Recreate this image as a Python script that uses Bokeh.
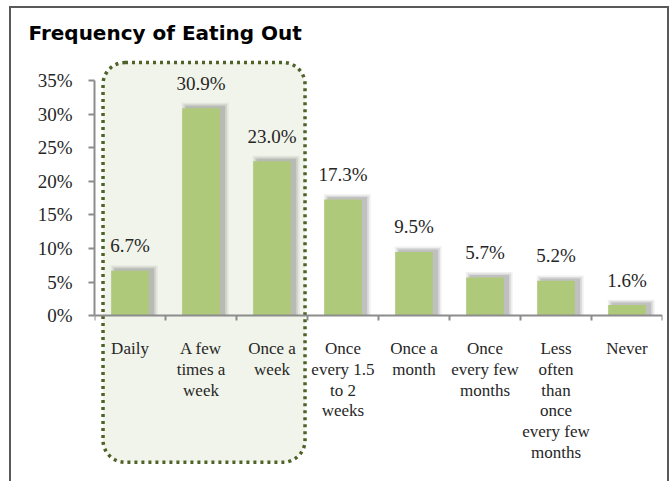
from bokeh.plotting import figure
from bokeh.models import (Range1d, LinearAxis, FixedTicker,
                          NumeralTickFormatter, BoxAnnotation, ColumnDataSource)
from bokeh.embed import file_html
from bokeh.resources import INLINE
from bokeh.core.properties import value

categories = ["Daily", "A few\ntimes a\nweek", "Once a\nweek", "Once\nevery 1.5\nto 2\nweeks",
              "Once a\nmonth", "Once\nevery few\nmonths",
              "Less\noften\nthan\nonce\nevery few\nmonths", "Never"]
values = [0.067, 0.309, 0.230, 0.173, 0.095, 0.057, 0.052, 0.016]
value_labels = ["6.7%", "30.9%", "23.0%", "17.3%", "9.5%", "5.7%", "5.2%", "1.6%"]
y_ticks = [0, 0.05, 0.10, 0.15, 0.20, 0.25, 0.30, 0.35]

SERIF = "Liberation Serif"
n = len(categories)
centers = [i + 0.5 for i in range(n)]
boundaries = list(range(n + 1))

p = figure(width=660, height=475, x_range=Range1d(0, n), y_range=Range1d(-0.2333, 0.3874),
           output_backend="svg", toolbar_location=None, x_axis_location=None,
           min_border_left=83, min_border_right=9, min_border_top=47, min_border_bottom=11)
p.outline_line_color = None
p.grid.visible = False
p.background_fill_color = "white"
p.styles = {"border-top": "2px solid #595959", "border-left": "2px solid #595959",
            "border-right": "2px solid #595959", "box-sizing": "border-box",
            "margin-left": "9px", "margin-top": "6px"}

p.title.text = "Frequency of Eating Out"
p.title.text_font = "DejaVu Sans"
p.title.text_font_style = "bold"
p.title.text_font_size = "20px"
p.title.text_color = "#000000"
p.title.align = "left"
p.title.offset = -66
p.title.standoff = 21

box = BoxAnnotation(left=0.12, right=2.965, top=0.377, bottom=-0.218,
                    fill_color="#F1F4EA", fill_alpha=1.0,
                    line_color="#4F6228", line_alpha=1.0, line_width=3.5, line_dash="3 4",
                    border_radius=22, level="underlay")
p.add_layout(box)

src = ColumnDataSource(dict(x=centers, top=values, lab=value_labels))

# soft shadow
for k, (w, a) in enumerate([(0.66, 0.10), (0.61, 0.16), (0.56, 0.24)]):
    shadow_src = ColumnDataSource(dict(x=[c + 0.06 for c in centers],
                                       top=[v + 0.0080 - 0.0022 * k for v in values]))
    p.vbar(x="x", top="top", width=w, bottom=0,
           source=shadow_src, fill_color="#6e6e6e", fill_alpha=a, line_color=None)

p.vbar(x="x", top="top", width=0.53, source=src, fill_color="#AFC97B", line_color=None)

p.text(x="x", y="top", text="lab", source=src, text_align="center",
       text_baseline="alphabetic", y_offset=-25, text_font=value(SERIF),
       text_font_size="19px", text_color="#262626")

# y axis
ya = p.yaxis[0]
ya.bounds = (0, 0.35)
ya.ticker = FixedTicker(ticks=y_ticks)
ya.formatter = NumeralTickFormatter(format="0%")
ya.axis_line_color = "#8c8c8c"
ya.axis_line_width = 2
ya.major_tick_line_color = "#8c8c8c"
ya.major_tick_line_width = 2
ya.major_tick_in = 0
ya.major_tick_out = 6
ya.minor_tick_line_color = None
ya.major_label_text_font = SERIF
ya.major_label_text_font_size = "19px"
ya.major_label_text_color = "#262626"
ya.major_label_standoff = 16

# category axis at y = 0, ticks at category boundaries (minor ticks)
xa = LinearAxis(ticker=FixedTicker(ticks=centers, minor_ticks=boundaries), fixed_location=0)
xa.major_label_overrides = {c: lab for c, lab in zip(centers, categories)}
xa.axis_line_color = "#8c8c8c"
xa.axis_line_width = 2
xa.major_tick_line_color = None
xa.minor_tick_line_color = "#8c8c8c"
xa.minor_tick_line_width = 2
xa.minor_tick_in = 0
xa.minor_tick_out = 5
xa.major_tick_in = 0
xa.major_tick_out = 0
xa.major_label_text_font = SERIF
xa.major_label_text_font_size = "17px"
xa.major_label_text_color = "#262626"
xa.major_label_text_line_height = 1.1
xa.major_label_standoff = 18
xa.major_label_orientation = "horizontal"
p.add_layout(xa, "below")

open("out.html", "w").write(file_html(p, INLINE))
